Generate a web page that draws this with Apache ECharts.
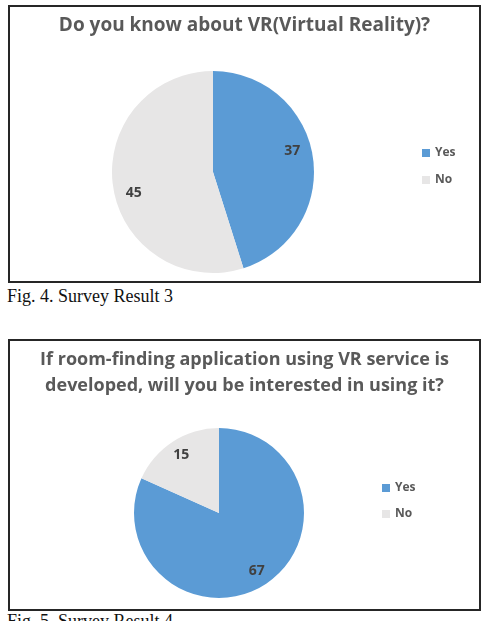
<!DOCTYPE html>
<html>
<head>
<meta charset="utf-8">
<script src="https://cdn.jsdelivr.net/npm/echarts@6/dist/echarts.min.js"></script>
<style>
  body { margin: 0; background: #fff; width: 487px; height: 621px; overflow: hidden; position: relative; }
  .frame { position: absolute; box-sizing: border-box; border: 2px solid #262626; }
  .chart { position: absolute; }
  .caption { position: absolute; left: 7px; font-family: 'Liberation Serif', 'Times New Roman', serif; font-size: 18px; color: #111; white-space: nowrap; }
</style>
</head>
<body>
  <div class="frame" style="left:8px; top:5px; width:473px; height:278px;"></div>
  <div id="chart1" class="chart" style="left:8px; top:5px; width:473px; height:278px;"></div>
  <div class="caption" style="top:286px;">Fig. 4. Survey Result 3</div>

  <div class="frame" style="left:8px; top:339px; width:473px; height:272px;"></div>
  <div id="chart2" class="chart" style="left:8px; top:339px; width:473px; height:272px;"></div>
  <div class="caption" style="top:611px;">Fig. 5. Survey Result 4</div>

<script>
  // survey answers
  const categories = ['Yes', 'No'];
  const q1Values = [37, 45];
  const q2Values = [67, 15];
  const q1Title = 'Do you know about VR(Virtual Reality)?';
  const q2Title = 'If room-finding application using VR service is\ndeveloped, will you be interested in using it?';

  const colors = ['#5b9bd5', '#e7e6e6'];
  const font = '"Open Sans", Lato, sans-serif';

  function makeOption(title, values, center, r, legendLeft, titleSize, labelStart) {
    const data = categories.map((name, i) => ({ name: name, value: values[i] }));
    return {
      animation: false,
      color: colors,
      title: {
        text: title,
        left: 'center',
        top: 3,
        textStyle: {
          fontFamily: font,
          fontSize: titleSize,
          fontWeight: 'bold',
          color: '#595959',
          lineHeight: 26
        }
      },
      legend: {
        orient: 'vertical',
        left: legendLeft,
        top: 137,
        icon: 'rect',
        itemWidth: 8,
        itemHeight: 8,
        itemGap: 15,
        data: categories,
        textStyle: { fontFamily: font, fontSize: 12, fontWeight: 'bold', color: '#595959' }
      },
      series: [
        {
          // the visible pie
          type: 'pie',
          center: center,
          radius: [0, r],
          startAngle: 90,
          silent: true,
          label: { show: false },
          labelLine: { show: false },
          data: data
        },
        {
          // transparent ring, only used to put the labels at ~0.78 r
          type: 'pie',
          center: center,
          radius: [Math.round(r * 0.56), r],
          startAngle: labelStart,
          silent: true,
          itemStyle: { color: 'rgba(0,0,0,0)' },
          label: {
            show: true,
            position: 'inside',
            formatter: '{c}',
            fontFamily: font,
            fontSize: 14,
            fontWeight: 'bold',
            color: '#404040'
          },
          labelLine: { show: false },
          data: data
        }
      ]
    };
  }

  const chart1 = echarts.init(document.getElementById('chart1'));
  chart1.setOption(makeOption(q1Title, q1Values, [205, 167], 101, 409, 19, 96));

  const chart2 = echarts.init(document.getElementById('chart2'));
  let opt2 = makeOption(q2Title, q2Values, [211, 174], 85, 369, 18, 90);
  opt2.legend.top = 138;
  opt2.legend.itemGap = 14;
  chart2.setOption(opt2);
</script>
</body>
</html>
